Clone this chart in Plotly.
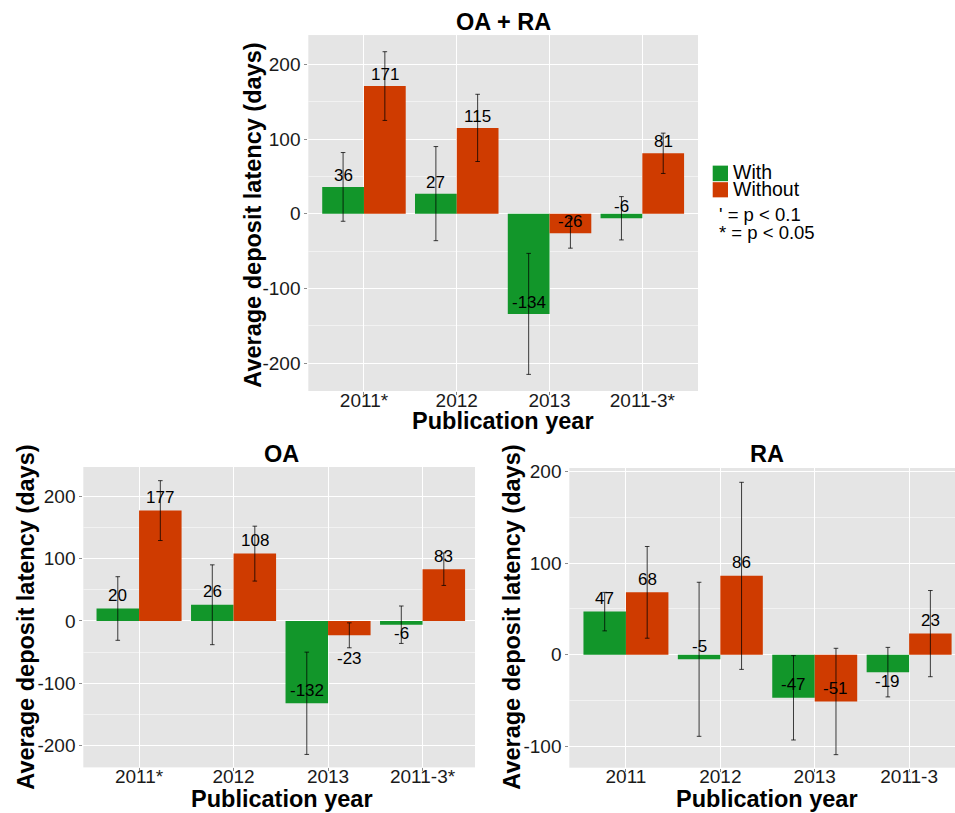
import plotly.graph_objects as go

# ---------------- data ----------------
categories_oara = ["2011*", "2012", "2013", "2011-3*"]
with_oara = [36, 27, -134, -6]
without_oara = [171, 115, -26, 81]
with_oara_err = [46, 63, 81, 29]
without_oara_err = [46, 45, 20, 27]

categories_oa = ["2011*", "2012", "2013", "2011-3*"]
with_oa = [20, 26, -132, -6]
without_oa = [177, 108, -23, 83]
with_oa_err = [51, 64, 82, 30]
without_oa_err = [48, 44, 20, 26]

categories_ra = ["2011", "2012", "2013", "2011-3"]
with_ra = [47, -5, -47, -19]
without_ra = [68, 86, -51, 23]
with_ra_err = [21, 84, 46, 27]
without_ra_err = [50, 102, 58, 47]

yticks_oara = [-200, -100, 0, 100, 200]
yticks_oa = [-200, -100, 0, 100, 200]
yticks_ra = [-100, 0, 100, 200]

series_names = ["With", "Without"]
panel_titles = ["OA + RA", "OA", "RA"]
x_title = "Publication year"
y_title = "Average deposit latency (days)"
note_lines = ["' = p &lt; 0.1", "* = p &lt; 0.05"]

# ---------------- style ----------------
W, H = 955, 813
FONT = "Liberation Sans, Arial, Helvetica, sans-serif"
GREEN = "#12962A"
RED = "#CF3B00"
PANEL_BG = "#E5E5E5"
BAR_W = 0.45
DODGE = 0.225


def px_x(p):
    return p / W


def px_y(p):
    return 1 - p / H


fig = go.Figure()

panels = [
    dict(cats=categories_oara, w=with_oara, wo=without_oara, we=with_oara_err, woe=without_oara_err,
         yticks=yticks_oara, dom_x=(308.3, 698.0), dom_y=(28.3, 387.3),
         xr=(-0.6, 3.6), yr=(-237.2, 239.3), shift=11.5, over={},
         title_xy=(503, 15.5), xt_xy=(503, 417.5), yt_xy=(253.5, 210)),
    dict(cats=categories_oa, w=with_oa, wo=without_oa, we=with_oa_err, woe=without_oa_err,
         yticks=yticks_oa, dom_x=(83.3, 475.0), dom_y=(464.0, 767.0),
         xr=(-0.59, 3.555), yr=(-234.8, 246.9), shift=13, over={(1, 2): -23, (0, 3): -9},
         title_xy=(281.5, 451), xt_xy=(281.5, 798.5), yt_xy=(26, 616)),
    dict(cats=categories_ra, w=with_ra, wo=without_ra, we=with_ra_err, woe=without_ra_err,
         yticks=yticks_ra, dom_x=(569.3, 955.0), dom_y=(465.0, 767.3),
         xr=(-0.6, 3.486), yr=(-123.2, 203.6), shift=13, over={(0, 3): -9},
         title_xy=(767.4, 451), xt_xy=(767.4, 798.5), yt_xy=(512, 616)),
]

tick_font = dict(family=FONT, size=19, color="#1a1a1a")
label_font = dict(family=FONT, size=17, color="#000000")
title_font = dict(family=FONT, size=23.5, color="#000000")

for k, p in enumerate(panels, start=1):
    xa = "x" if k == 1 else f"x{k}"
    ya = "y" if k == 1 else f"y{k}"
    xs = list(range(len(p["cats"])))
    groups = [
        (0, [i - DODGE for i in xs], p["w"], p["we"], GREEN),
        (1, [i + DODGE for i in xs], p["wo"], p["woe"], RED),
    ]
    for s, xpos, vals, errs, col in groups:
        fig.add_trace(go.Bar(
            x=xpos, y=vals, width=BAR_W, name=series_names[s], showlegend=False,
            marker=dict(color=col, line=dict(width=0)),
            error_y=dict(type="data", array=errs, visible=True, color="rgba(0,0,0,0.75)",
                         thickness=1, width=2.3),
            xaxis=xa, yaxis=ya, hoverinfo="skip",
        ))
        for j, (xv, v) in enumerate(zip(xpos, vals)):
            fig.add_annotation(
                x=xv, y=v, xref=xa, yref=ya, text=str(v), showarrow=False,
                yanchor="middle", xanchor="center", yshift=p["over"].get((s, j), p["shift"]),
                font=label_font,
            )

    axis_x = dict(
        domain=[px_x(p["dom_x"][0]), px_x(p["dom_x"][1])],
        range=list(p["xr"]), tickmode="array", tickvals=xs, ticktext=p["cats"],
        showgrid=True, gridcolor="#FFFFFF", gridwidth=1, zeroline=False,
        ticks="outside", ticklen=3, tickcolor="#8c8c8c", tickwidth=1,
        ticklabelstandoff=-11,
        tickfont=tick_font, anchor=ya, showline=False, fixedrange=True,
    )
    axis_y = dict(
        domain=[px_y(p["dom_y"][1]), px_y(p["dom_y"][0])],
        range=list(p["yr"]), tickmode="array", tickvals=p["yticks"],
        ticktext=[str(t) for t in p["yticks"]],
        showgrid=True, gridcolor="#FFFFFF", gridwidth=1, zeroline=False,
        ticks="outside", ticklen=3, tickcolor="#8c8c8c", tickwidth=1,
        tickfont=tick_font, anchor=xa, showline=False, fixedrange=True,
        minor=dict(dtick=50, tick0=0, showgrid=True, gridcolor="#F2F2F2", gridwidth=0.6, ticks=""),
    )
    fig.update_layout(**{("xaxis" if k == 1 else f"xaxis{k}"): axis_x,
                         ("yaxis" if k == 1 else f"yaxis{k}"): axis_y})

    # panel title, axis titles
    fig.add_annotation(x=px_x(p["title_xy"][0]), y=px_y(p["title_xy"][1]), xref="paper", yref="paper",
                       text=f"<b>{panel_titles[k-1]}</b>", showarrow=False,
                       xanchor="center", yanchor="middle", font=title_font)
    fig.add_annotation(x=px_x(p["xt_xy"][0]), y=px_y(p["xt_xy"][1]), xref="paper", yref="paper",
                       text=f"<b>{x_title}</b>", showarrow=False,
                       xanchor="center", yanchor="middle", font=title_font)
    fig.add_annotation(x=px_x(p["yt_xy"][0]), y=px_y(p["yt_xy"][1]), xref="paper", yref="paper",
                       text=f"<b>{y_title}</b>", showarrow=False, textangle=-90,
                       xanchor="center", yanchor="middle", font=title_font)

# ---------------- legend (manual, top panel) ----------------
legend_font = dict(family=FONT, size=19.5, color="#000000")
key_rows = [(160.0, 175.7, GREEN), (176.7, 192.0, RED)]
for (y0, y1, col), name in zip(key_rows, series_names):
    fig.add_shape(type="rect", xref="paper", yref="paper",
                  x0=px_x(712.7), x1=px_x(728.0), y0=px_y(y1), y1=px_y(y0),
                  fillcolor=col, line=dict(width=0))
    fig.add_annotation(x=px_x(730.5), y=px_y((y0 + y1) / 2 - 1), xref="paper", yref="paper",
                       text=name, showarrow=False, xanchor="left", yanchor="middle", font=legend_font)
for line_txt, yc in zip(note_lines, [209.5, 227.5]):
    fig.add_annotation(x=px_x(716.5), y=px_y(yc), xref="paper", yref="paper",
                       text=line_txt, showarrow=False, xanchor="left", yanchor="middle",
                       font=dict(family=FONT, size=18.5, color="#000000"))

fig.update_layout(
    width=W, height=H, autosize=False,
    margin=dict(l=0, r=0, t=0, b=0),
    paper_bgcolor="#FFFFFF", plot_bgcolor=PANEL_BG,
    barmode="overlay", showlegend=False,
    font=dict(family=FONT),
)

fig.write_html("out.html", config={"displayModeBar": False},
               post_script="document.body.style.margin='0px';")
